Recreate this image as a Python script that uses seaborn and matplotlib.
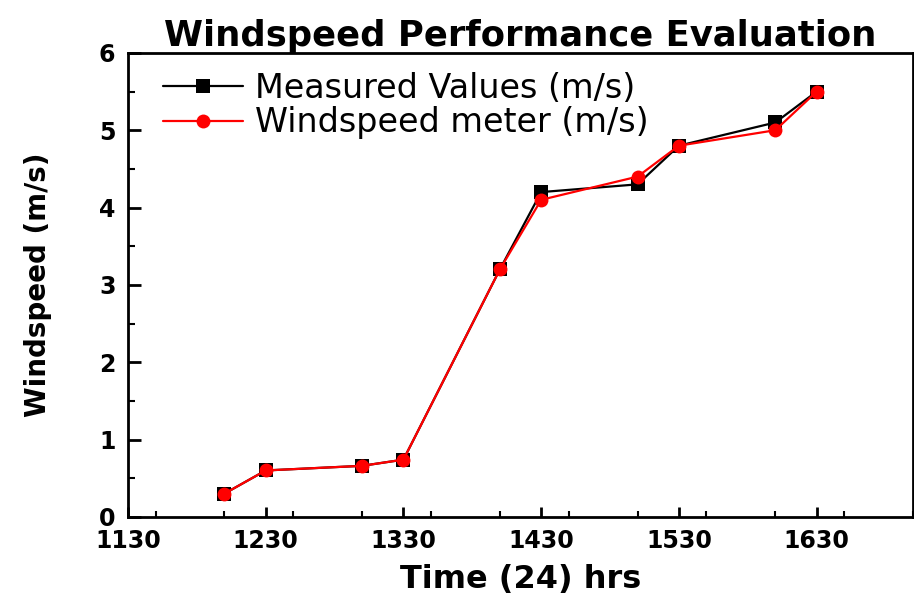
import matplotlib
matplotlib.use("Agg")
import matplotlib.pyplot as plt
import seaborn as sns
import pandas as pd
from matplotlib.ticker import MultipleLocator

time_hrs = [1200, 1230, 1300, 1330, 1400, 1430, 1500, 1530, 1600, 1630]
measured = [0.3, 0.6, 0.66, 0.74, 3.2, 4.2, 4.3, 4.8, 5.1, 5.5]
meter = [0.3, 0.6, 0.66, 0.74, 3.2, 4.1, 4.4, 4.8, 5.0, 5.5]
x_ticks = [1130, 1230, 1330, 1430, 1530, 1630]
series_names = ["Measured Values (m/s)", "Windspeed meter (m/s)"]

df = pd.DataFrame({
    "time": time_hrs * 2,
    "speed": measured + meter,
    "series": [series_names[0]] * len(time_hrs) + [series_names[1]] * len(time_hrs),
})

sns.set_style("ticks")
plt.rcParams["font.family"] = ["DejaVu Sans"]
plt.rcParams["text.color"] = "black"
plt.rcParams["axes.labelcolor"] = "black"
plt.rcParams["xtick.color"] = "black"
plt.rcParams["ytick.color"] = "black"

fig = plt.figure(figsize=(9.14, 6.01), dpi=100)
ax = fig.add_axes([0.140, 0.140, 0.859, 0.772])

sns.lineplot(data=df, x="time", y="speed", hue="series", style="series",
             palette={series_names[0]: "black", series_names[1]: "red"},
             markers={series_names[0]: "s", series_names[1]: "o"},
             dashes=False, markersize=10, linewidth=1.6, markeredgewidth=0,
             ax=ax)

ax.set_xlim(1130, 1700)
ax.set_ylim(0, 6)
ax.set_xticks(x_ticks)
ax.set_xticklabels([str(t) for t in x_ticks])
ax.xaxis.set_minor_locator(MultipleLocator(50))
ax.yaxis.set_major_locator(MultipleLocator(1))
ax.yaxis.set_minor_locator(MultipleLocator(0.5))
ax.tick_params(which="major", direction="in", width=2, labelsize=17, labelcolor="black")
ax.tick_params(axis="x", which="major", length=7, pad=9)
ax.tick_params(axis="y", which="major", length=9, pad=9)
ax.tick_params(axis="x", which="minor", direction="in", length=4, width=1.5)
ax.tick_params(axis="y", which="minor", direction="in", length=5, width=1.5)
for lab in ax.get_xticklabels() + ax.get_yticklabels():
    lab.set_fontweight("bold")
for s in ax.spines.values():
    s.set_linewidth(2)
    s.set_color("black")

ax.set_xlabel("Time (24) hrs", fontsize=23, fontweight="bold", labelpad=8)
ax.set_ylabel("Windspeed (m/s)", fontsize=20, fontweight="bold", labelpad=34)
ax.set_title("Windspeed Performance Evaluation", fontsize=25.5, fontweight="bold", pad=5)

leg = ax.legend(loc="upper left", bbox_to_anchor=(35 / 785, 1 - 19 / 464),
                frameon=False, fontsize=24, handlelength=2.4,
                handletextpad=0.35, labelspacing=0.04, borderaxespad=0, borderpad=0)
for t in leg.get_texts():
    t.set_color("black")

fig.savefig("out.png", dpi=100)
